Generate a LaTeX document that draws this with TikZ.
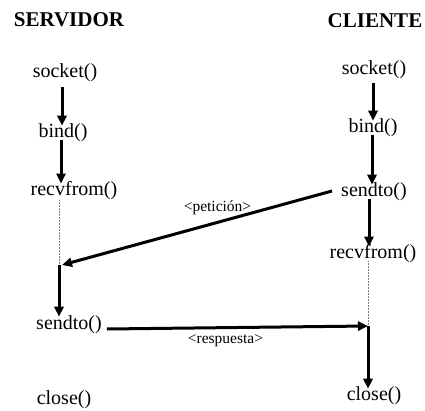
\documentclass[tikz,border=0pt]{standalone}
\usepackage{fontspec}
\setmainfont{Liberation Serif}
\usetikzlibrary{arrows.meta}
\begin{document}
\begin{tikzpicture}[x=1pt,y=-1pt,
  call/.style={inner sep=0pt,font=\fontsize{20}{22}\selectfont},
  head/.style={inner sep=0pt,font=\fontsize{21}{23}\selectfont\bfseries},
  msg/.style={inner sep=0pt,font=\fontsize{15.5}{17}\selectfont},
  flow/.style={line width=3pt,-{Triangle[length=10pt,width=9pt]}},
  wait/.style={densely dotted,line width=0.5pt,gray}]
\useasboundingbox (0,0) rectangle (425,411);

% column headings
\node[head] (srv) at (69,20) {SERVIDOR};
\node[head] (cli) at (375,21) {CLIENTE};

% server calls
\node[call] (ssock) at (65,73) {socket()};
\node[call] (sbind) at (63,133) {bind()};
\node[call] (srecv) at (74,191) {recvfrom()};
\coordinate (swake) at (59,265);
\node[call] (ssend) at (69,325) {sendto()};
\node[call] (sclose) at (64,400) {close()};

% client calls
\node[call] (csock) at (374,70) {socket()};
\node[call] (cbind) at (373,128) {bind()};
\node[call] (csend) at (374,192) {sendto()};
\node[call] (crecv) at (373,254) {recvfrom()};
\coordinate (cwake) at (368,326);
\node[call] (cclose) at (374,396) {close()};

% server flow
\draw[flow] ([xshift=-3pt,yshift=-5pt]ssock.south) -- ([xshift=-1pt,yshift=-2pt]sbind.north);
\draw[flow] ([xshift=-2pt,yshift=2pt]sbind.south) -- ([xshift=-13pt,yshift=-2pt]srecv.north);
\draw[wait] ([xshift=-15pt]srecv.south) -- (swake);
\draw[flow] (swake) -- ([xshift=-10pt,yshift=-1pt]ssend.north);

% client flow
\draw[flow] ([xshift=-1pt,yshift=-4pt]csock.south) -- ([yshift=-2pt]cbind.north);
\draw[flow] ([xshift=-1pt,yshift=2pt]cbind.south) -- ([xshift=-2pt,yshift=-2pt]csend.north);
\draw[flow] ([xshift=-5pt,yshift=2pt]csend.south) -- ([xshift=-4pt,yshift=-2pt]crecv.north);
\draw[wait] ([xshift=-5pt,yshift=2pt]crecv.south) -- (cwake);
\draw[flow] (cwake) -- ([xshift=-6pt,yshift=-2pt]cclose.north);

% messages
\draw[flow] ([xshift=-9pt,yshift=1pt]csend.west) -- ([xshift=3pt]swake);
\node[msg] (lpet) at (217.5,208) {<petición>};
\draw[flow] ([xshift=5pt,yshift=-4pt]ssend.east) -- (cwake);
\node[msg] (lresp) at (225.5,341) {<respuesta>};
\end{tikzpicture}
\end{document}
